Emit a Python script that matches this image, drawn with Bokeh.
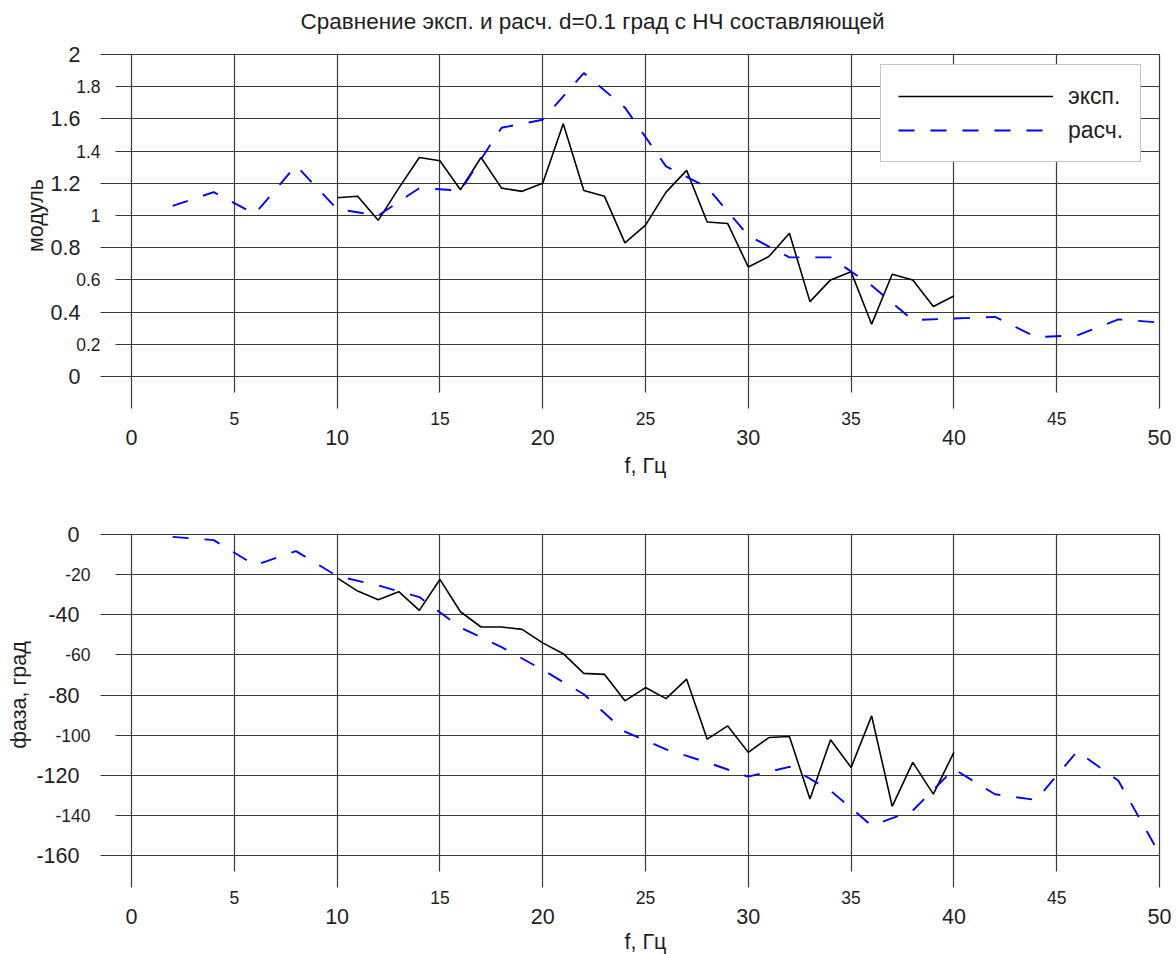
from bokeh.plotting import figure
from bokeh.models import (Range1d, FixedTicker, LinearAxis, NumeralTickFormatter,
                          Legend, LegendItem, Title, Grid)
from bokeh.layouts import column
from bokeh.embed import file_html
from bokeh.resources import INLINE

# ---------------- data ----------------
f_exp = list(range(10, 41))
mod_exp = [1.11, 1.12, 0.97, 1.17, 1.36, 1.34, 1.16, 1.36, 1.17, 1.15, 1.20,
           1.57, 1.155, 1.12, 0.83, 0.94, 1.145, 1.28, 0.96, 0.95, 0.68,
           0.745, 0.89, 0.465, 0.60, 0.65, 0.325, 0.635, 0.60, 0.435, 0.50]
phase_exp = [-21.6, -28.2, -32.5, -28.5, -37.8, -22.4, -38.5, -46.1, -46.1, -47.3, -54.0,
             -59.4, -69.2, -69.7, -82.9, -76.3, -81.8, -72.1, -102.0, -95.4, -108.6,
             -101.2, -100.7, -131.8, -102.3, -116.1, -90.4, -135.5, -113.6, -129.4, -108.6]

f_calc = list(range(2, 51, 2))
mod_calc = [1.06, 1.145, 1.01, 1.31, 1.04, 1.0, 1.17, 1.155, 1.545, 1.595, 1.885,
            1.67, 1.305, 1.175, 0.875, 0.74, 0.74, 0.565, 0.35, 0.36, 0.37,
            0.245, 0.255, 0.355, 0.335]
phase_calc = [-1.2, -2.8, -15.3, -8.3, -20.7, -25.4, -31.2, -46.4, -56.1, -67.5, -79.6,
              -98.2, -107.1, -113.6, -120.7, -115.8, -127.7, -145.1, -137.6, -116.9, -129.5,
              -132.3, -108.1, -122.7, -159.2]

x_major = [0, 10, 20, 30, 40, 50]
x_minor = [5, 15, 25, 35, 45]
mod_major = [0, 0.4, 0.8, 1.2, 1.6, 2]
mod_minor = [0.2, 0.6, 1.0, 1.4, 1.8]
ph_major = [0, -40, -80, -120, -160]
ph_minor = [-20, -60, -100, -140]

title_text = "Сравнение эксп. и расч. d=0.1 град с НЧ составляющей"
xlabel = "f, Гц"
ylabel_top = "модуль"
ylabel_bot = "фаза, град"

FONT = "Liberation Sans"
GRID = "#3a3a3a"
TXT = "#1e1e1e"
BIG = "21.5px"
SMALL = "17.5px"


def base_axis(ax, size):
    ax.formatter = NumeralTickFormatter(format="0.[0]")
    ax.major_tick_in = 0
    ax.minor_tick_in = 0
    ax.major_tick_line_color = GRID
    ax.minor_tick_line_color = GRID
    ax.major_tick_line_width = 1.2
    ax.minor_tick_line_width = 1.2
    ax.major_label_text_font = FONT
    ax.major_label_text_font_size = size
    ax.major_label_text_color = TXT
    ax.axis_line_color = None
    ax.axis_label_text_font = FONT
    ax.axis_label_text_font_size = BIG
    ax.axis_label_text_font_style = "normal"
    ax.axis_label_text_color = TXT


def make_fig(yr, ymaj, ymin, ylabel, fh, bb, ymin_standoff, ymaj_standoff, ylab_standoff,
             xlab_standoff):
    p = figure(frame_width=1028, frame_height=fh,
               min_border_left=131, min_border_right=17,
               min_border_top=54, min_border_bottom=bb,
               x_range=Range1d(0, 50), y_range=Range1d(*yr),
               x_axis_type=None, y_axis_type=None,
               toolbar_location=None, output_backend="svg")
    p.outline_line_color = GRID
    p.outline_line_width = 1.2
    p.background_fill_color = "white"
    p.border_fill_color = "white"

    p.add_layout(Grid(dimension=0, ticker=FixedTicker(ticks=sorted(x_major + x_minor)),
                      grid_line_color=GRID, grid_line_width=1.2))
    p.add_layout(Grid(dimension=1, ticker=FixedTicker(ticks=sorted(ymaj + ymin)),
                      grid_line_color=GRID, grid_line_width=1.2))

    # x: inner axis carries the small labels (5, 15, ...) and all tick marks
    xi = LinearAxis()
    base_axis(xi, SMALL)
    xi.ticker = FixedTicker(ticks=x_minor, minor_ticks=x_major)
    xi.major_tick_out = 16
    xi.minor_tick_out = 32
    xi.major_label_standoff = 3
    p.add_layout(xi, "below")
    # x: outer axis carries the big labels (0, 10, ...) and the title
    xo = LinearAxis(axis_label=xlabel)
    base_axis(xo, BIG)
    xo.ticker = FixedTicker(ticks=x_major)
    xo.major_tick_out = 0
    xo.minor_tick_out = 0
    xo.major_tick_line_color = None
    xo.major_label_standoff = 2
    xo.axis_label_standoff = xlab_standoff
    xo.axis_label_text_line_height = 0.9
    p.add_layout(xo, "below")

    # y: inner axis small labels + all tick marks
    yi = LinearAxis()
    base_axis(yi, SMALL)
    yi.ticker = FixedTicker(ticks=ymin, minor_ticks=ymaj)
    yi.major_tick_out = 16
    yi.minor_tick_out = 31
    yi.major_label_standoff = ymin_standoff
    p.add_layout(yi, "left")
    # y: outer axis big labels + title
    yo = LinearAxis(axis_label=ylabel)
    base_axis(yo, BIG)
    yo.ticker = FixedTicker(ticks=ymaj)
    yo.major_tick_out = 0
    yo.minor_tick_out = 0
    yo.major_tick_line_color = None
    yo.major_label_standoff = ymaj_standoff
    yo.axis_label_standoff = ylab_standoff
    p.add_layout(yo, "left")
    return p


# ---------------- top: modulus ----------------
p1 = make_fig((0, 2), mod_major, mod_minor, ylabel_top, 322, 104, 0, -7, 0, 6)
r1 = p1.line(f_exp, mod_exp, line_color="black", line_width=1.6)
r2 = p1.line(f_calc, mod_calc, line_color="#0000ff", line_width=1.9, line_dash="16 16")
# spacer between frame and title, then the title itself
p1.add_layout(Title(text=" ", text_font=FONT, text_font_size="15px", standoff=2), "above")
p1.add_layout(Title(text=title_text, align="left", offset=169, vertical_align="bottom",
                    standoff=0,
                    text_font=FONT, text_font_size="22.5px", text_font_style="normal",
                    text_color=TXT), "above")
leg = Legend(items=[LegendItem(label="эксп.", renderers=[r1]),
                    LegendItem(label="расч.", renderers=[r2])],
             location=(749, 214))
leg.label_text_font = FONT
leg.label_text_font_size = "23px"
leg.label_text_color = TXT
leg.glyph_width = 155
leg.glyph_height = 28
leg.label_height = 28
leg.label_standoff = 15
leg.spacing = 6
leg.padding = 17
leg.margin = 0
leg.border_line_color = "#8c8c8c"
leg.border_line_width = 1
leg.background_fill_color = "white"
leg.background_fill_alpha = 1.0
p1.add_layout(leg, "center")

# ---------------- bottom: phase ----------------
p2 = make_fig((-160, 0), ph_major, ph_minor, ylabel_bot, 321, 99, 10, -27, 2, 3)
p2.line(f_exp, phase_exp, line_color="black", line_width=1.6)
p2.line(f_calc, phase_calc, line_color="#0000ff", line_width=1.9, line_dash="16 16")

layout = column(p1, p2, spacing=0)
open("out.html", "w").write(file_html(layout, INLINE))
